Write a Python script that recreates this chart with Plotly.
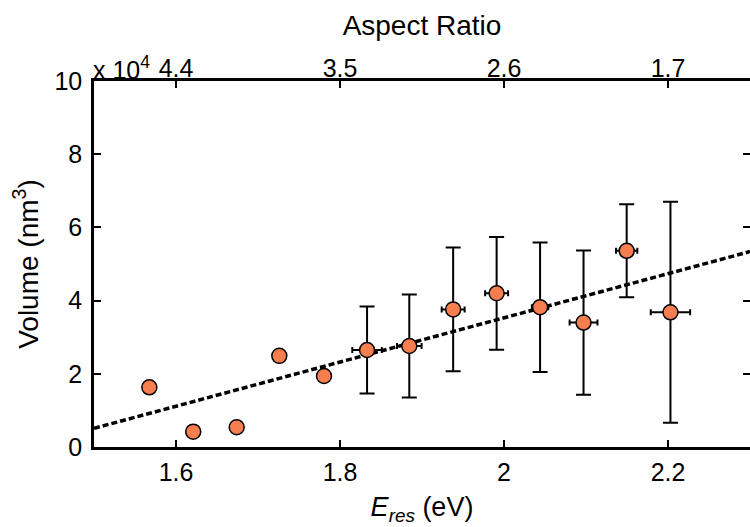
import plotly.graph_objects as go

# Data
e_res_plain = [1.5675, 1.621, 1.674, 1.726, 1.7805]
vol_plain = [1.63, 0.42, 0.54, 2.49, 1.94]

e_res_err = [1.833, 1.8845, 1.938, 1.991, 2.044, 2.097, 2.1496, 2.203]
vol_err = [2.65, 2.76, 3.76, 4.20, 3.82, 3.40, 5.36, 3.68]
vol_sd = [1.19, 1.41, 1.69, 1.54, 1.77, 1.97, 1.27, 3.02]
e_res_sd = [0.018, 0.015, 0.014, 0.014, 0.010, 0.017, 0.013, 0.024]

fit_e = [1.5, 2.3]
fit_v = [0.51, 5.34]

x_ticks = [1.6, 1.8, 2.0, 2.2]
x_ticktext = ["1.6", "1.8", "2", "2.2"]
aspect_ticktext = ["4.4", "3.5", "2.6", "1.7"]
y_ticks = [0, 2, 4, 6, 8, 10]

FONT = "Liberation Sans, Arial, sans-serif"
ORANGE = "#F77E4F"

fig = go.Figure()

fig.add_trace(go.Scatter(
    x=fit_e, y=fit_v, mode="lines",
    line=dict(color="black", width=3.5, dash="6px,3px"),
    showlegend=False, hoverinfo="skip"))

fig.add_trace(go.Scatter(
    x=e_res_err, y=vol_err, mode="markers",
    error_y=dict(type="data", array=vol_sd, color="black", thickness=2, width=7.5),
    error_x=dict(type="data", array=e_res_sd, color="black", thickness=2, width=3),
    marker=dict(color=ORANGE, size=15, line=dict(color="black", width=1.5)),
    showlegend=False))

fig.add_trace(go.Scatter(
    x=e_res_plain, y=vol_plain, mode="markers",
    marker=dict(color=ORANGE, size=15, line=dict(color="black", width=1.5)),
    showlegend=False))

# invisible trace for the top axis
fig.add_trace(go.Scatter(x=fit_e, y=fit_v, xaxis="x2", mode="lines",
                         line=dict(width=0), opacity=0, showlegend=False,
                         hoverinfo="skip"))

axis_common = dict(showgrid=False, zeroline=False, showline=True, linecolor="black",
                   linewidth=2.5, ticks="inside", ticklen=7, tickwidth=2,
                   tickcolor="black", tickfont=dict(family=FONT, size=25, color="black"))

fig.update_layout(
    width=750, height=527,
    margin=dict(l=94, r=0, t=81, b=80, autoexpand=False),
    plot_bgcolor="white", paper_bgcolor="white",
    font=dict(family=FONT, color="black"),
    xaxis=dict(range=[1.5, 2.3], tickvals=x_ticks, ticktext=x_ticktext,
               ticklabelstandoff=1,
               title=dict(text="<i>E</i><sub><i>res</i></sub> (eV)",
                          font=dict(family=FONT, size=27), standoff=13),
               **axis_common),
    xaxis2=dict(range=[1.5, 2.3], overlaying="x", side="top", anchor="y",
                tickvals=x_ticks, ticktext=aspect_ticktext, ticklabelstandoff=-9,
                title=dict(text="Aspect Ratio", font=dict(family=FONT, size=28), standoff=11),
                **axis_common),
    yaxis=dict(range=[0, 10], tickvals=y_ticks, mirror="ticks", ticklabelstandoff=4,
               title=dict(text="Volume (nm<sup>3</sup>)", font=dict(family=FONT, size=28),
                          standoff=8),
               **axis_common),
    annotations=[dict(text="x 10<sup>4</sup>", xref="paper", yref="paper", x=0, y=1,
                      xanchor="left", yanchor="bottom", showarrow=False, yshift=-5,
                      xshift=-3,
                      font=dict(family=FONT, size=25, color="black"))],
)

fig.write_html("out.html", config={"displayModeBar": False},
               post_script="document.body.style.margin='0';")
